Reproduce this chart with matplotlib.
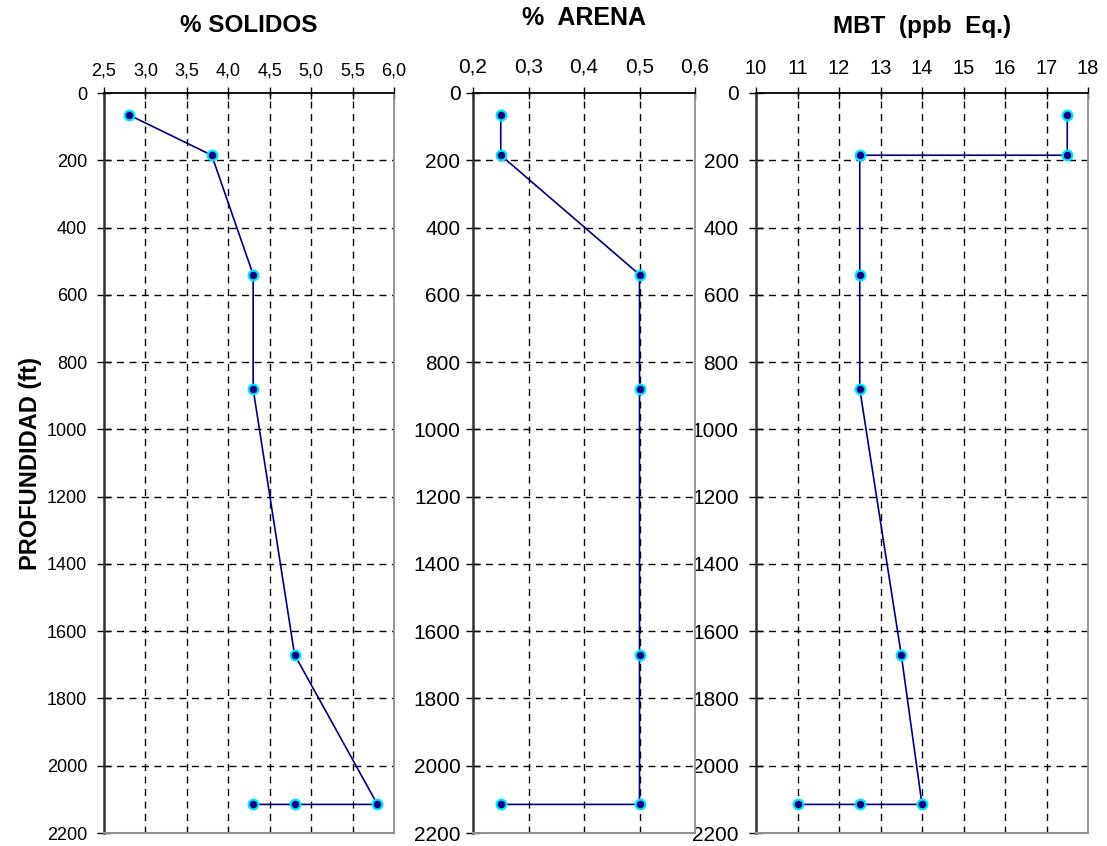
import matplotlib
matplotlib.use("Agg")
import matplotlib.pyplot as plt
import numpy as np

plt.rcParams['font.family'] = ['Liberation Sans', 'DejaVu Sans']

# ---- data ----
sol_x = [2.8, 3.8, 4.3, 4.3, 4.8, 5.8, 4.8, 4.3]
sol_depth = [65, 185, 540, 880, 1670, 2115, 2115, 2115]

are_x = [0.25, 0.25, 0.5, 0.5, 0.5, 0.5, 0.25]
are_depth = [65, 185, 540, 880, 1670, 2115, 2115]

mbt_x = [17.5, 17.5, 12.5, 12.5, 12.5, 13.5, 14.0, 12.5, 11.0]
mbt_depth = [65, 185, 185, 540, 880, 1670, 2115, 2115, 2115]

sol_ticks = [2.5, 3.0, 3.5, 4.0, 4.5, 5.0, 5.5, 6.0]
sol_labels = ["2,5", "3,0", "3,5", "4,0", "4,5", "5,0", "5,5", "6,0"]
are_ticks = [0.2, 0.3, 0.4, 0.5, 0.6]
are_labels = ["0,2", "0,3", "0,4", "0,5", "0,6"]
mbt_ticks = list(range(10, 19))
mbt_labels = [str(t) for t in mbt_ticks]
depth_ticks = list(range(0, 2201, 200))

W, H = 1107, 846
fig = plt.figure(figsize=(W / 100, H / 100), dpi=100)


def box(l, r, t=93, b=833):
    return [l / W, 1 - b / H, (r - l) / W, (b - t) / H]


ax1 = fig.add_axes(box(104, 394))
ax3 = fig.add_axes(box(756, 1088))
ax2 = fig.add_axes(box(473, 695))
ax3.set_zorder(0)
ax2.set_zorder(2)
ax1.set_zorder(1)

panels = [
    (ax1, sol_x, sol_depth, sol_ticks, sol_labels, (2.5, 6.0), "% SOLIDOS", 13, 13, 25, 17.5, 6, 7),
    (ax2, are_x, are_depth, are_ticks, are_labels, (0.2, 0.6), "%  ARENA", 15, 15, 18, 18, 8, 4),
    (ax3, mbt_x, mbt_depth, mbt_ticks, mbt_labels, (10, 18), "MBT  (ppb  Eq.)", 14.5, 15, 26, 17.5, 7, 7.5),
]

for ax, xs, ds, xt, xl, xlim, title, xfs, yfs, ty, tfs, xpad, ypad in panels:
    ax.set_facecolor("white")
    ax.plot(xs, ds, color="#000080", lw=1.2, marker="o", markersize=7,
            markerfacecolor="#000080", markeredgecolor="#00E5FF",
            markeredgewidth=1.6, zorder=3, clip_on=False)
    ax.set_xlim(*xlim)
    ax.set_ylim(2200, 0)
    ax.set_xticks(xt)
    ax.set_xticklabels(xl)
    ax.set_yticks(depth_ticks)
    ax.set_yticklabels([str(d) for d in depth_ticks])
    ax.xaxis.tick_top()
    ax.tick_params(axis="x", direction="inout", length=8, width=1, pad=xpad,
                   labelsize=xfs, top=True, bottom=False)
    ax.tick_params(axis="y", direction="inout", length=10, width=1, pad=ypad,
                   labelsize=yfs, left=True, right=False)
    for v in xt[1:-1]:
        ax.axvline(v, color="black", lw=1, ls=(0, (5, 4)), zorder=1)
    for d in depth_ticks[1:-1]:
        ax.axhline(d, color="black", lw=1, ls=(0, (5, 4)), zorder=1)
    ax.spines["left"].set_color("#303030")
    ax.spines["left"].set_linewidth(1.8)
    ax.spines["top"].set_color("black")
    ax.spines["top"].set_linewidth(1.3)
    ax.spines["right"].set_color("#909090")
    ax.spines["right"].set_linewidth(1.3)
    ax.spines["bottom"].set_color("#909090")
    ax.spines["bottom"].set_linewidth(1.5)
    bb = ax.get_position()
    fig.text((bb.x0 + bb.x1) / 2, 1 - ty / H, title, ha="center", va="center",
             fontsize=tfs, fontweight="bold")

fig.text(30 / W, 1 - 463 / H, "PROFUNDIDAD (ft)", rotation=90, ha="center",
         va="center", fontsize=17, fontweight="bold")

fig.savefig("out.png", dpi=100)
